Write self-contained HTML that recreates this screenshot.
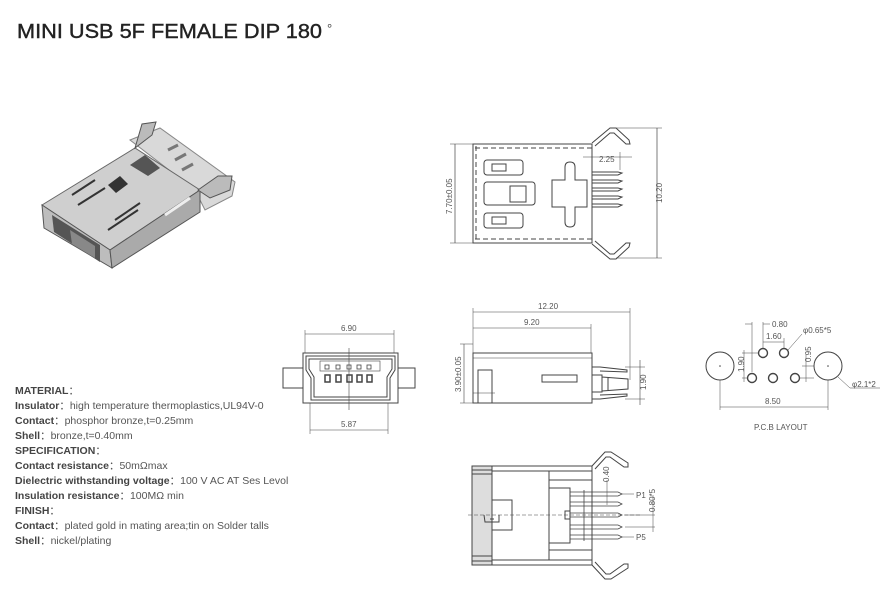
<!DOCTYPE html>
<html><head><meta charset="utf-8"><style>
html,body{margin:0;padding:0;background:#fff;width:889px;height:590px;overflow:hidden}
svg{display:block}
.d{font-family:"Liberation Sans",sans-serif;font-size:8px;fill:#555}
.t{font-family:"Liberation Sans","Noto Sans CJK SC",sans-serif;font-size:10.5px;fill:#555}
.b{font-weight:bold;fill:#444}
</style></head><body>
<svg width="889" height="590" viewBox="0 0 889 590" xmlns="http://www.w3.org/2000/svg">
<text x="17" y="38" font-family="Liberation Sans,sans-serif" font-size="20.5" fill="#222" textLength="305" lengthAdjust="spacingAndGlyphs" stroke="#222" stroke-width="0.4">MINI USB 5F FEMALE DIP 180</text>
<text x="327" y="33" font-family="Liberation Sans,sans-serif" font-size="13" fill="#444">°</text>

<!-- photo -->
<g>
<polygon points="130,140 160,128 235,182 232,196 205,210 195,190" fill="#d9d9d9" stroke="#888"/>
<polygon points="42,205 135,148 200,190 110,250" fill="#cfcfcf" stroke="#666"/>
<polygon points="42,205 110,250 112,268 44,228" fill="#bdbdbd" stroke="#555"/>
<polygon points="110,250 200,190 200,212 112,268" fill="#aaa" stroke="#555"/>
<polygon points="52,215 100,245 100,262 54,232" fill="#555"/>
<polygon points="70,230 95,246 95,258 72,244" fill="#888"/>
<polygon points="135,148 142,124 156,122 152,135" fill="#bbb" stroke="#555"/>
<polygon points="198,190 218,176 232,176 230,190 210,198" fill="#bbb" stroke="#555"/>
<line x1="168" y1="150" x2="178" y2="145" stroke="#777" stroke-width="3"/>
<line x1="175" y1="160" x2="186" y2="154" stroke="#777" stroke-width="3"/>
<line x1="182" y1="170" x2="193" y2="164" stroke="#777" stroke-width="3"/>
<polygon points="108,185 120,176 128,184 116,193" fill="#333"/>
<line x1="72" y1="195" x2="95" y2="180" stroke="#333" stroke-width="2"/>
<line x1="78" y1="205" x2="105" y2="188" stroke="#333" stroke-width="2"/>
<line x1="108" y1="230" x2="138" y2="210" stroke="#333" stroke-width="2"/>
<line x1="115" y1="220" x2="140" y2="203" stroke="#333" stroke-width="2"/>
<polygon points="130,165 145,155 160,168 148,176" fill="#555"/>
<line x1="165" y1="215" x2="190" y2="198" stroke="#eee" stroke-width="3"/>
</g>

<g fill="none" stroke="#444" stroke-width="1">
<!-- top view -->
<rect x="473" y="144" width="119" height="99"/>
<line x1="475" y1="148" x2="592" y2="148" stroke-dasharray="5,3"/>
<line x1="475" y1="239" x2="592" y2="239" stroke-dasharray="5,3"/>
<line x1="476" y1="146" x2="476" y2="241" stroke-dasharray="5,3"/>
<rect x="484" y="160" width="39" height="15" rx="3"/>
<rect x="492" y="164" width="14" height="7"/>
<rect x="484" y="182" width="51" height="23" rx="3"/>
<rect x="510" y="186" width="16" height="16"/>
<rect x="484" y="213" width="39" height="15" rx="3"/>
<rect x="492" y="217" width="14" height="7"/>
<path d="M565,167 Q565,162 570,162 Q575,162 575,167 L575,180 L587,180 L587,207 L575,207 L575,222 Q575,227 570,227 Q565,227 565,222 L565,207 L552,207 L552,180 L565,180 Z"/>
<path d="M592,172 L618,172 L622,173 L618,175 L592,175 M592,180 L618,180 L622,181 L618,183 L592,183 M592,188 L618,188 L622,189 L618,191 L592,191 M592,196 L618,196 L622,197 L618,199 L592,199 M592,204 L618,204 L622,205 L618,207 L592,207"/>
<path d="M592,143 L610,128 L616,128 L629,140 L630,144 L626,144 L614,133 L610,133 L595,146"/>
<path d="M592,244 L610,259 L616,259 L629,247 L630,243 L626,243 L614,254 L610,254 L595,241"/>
<line x1="455" y1="144" x2="455" y2="243" stroke-width="0.7"/>
<line x1="450" y1="144" x2="473" y2="144" stroke-width="0.5"/>
<line x1="450" y1="243" x2="473" y2="243" stroke-width="0.5"/>
<line x1="657" y1="128" x2="657" y2="258" stroke-width="0.7"/>
<line x1="616" y1="128" x2="662" y2="128" stroke-width="0.5"/>
<line x1="616" y1="258" x2="662" y2="258" stroke-width="0.5"/>
<line x1="583" y1="157" x2="632" y2="157" stroke-width="0.5"/>
<line x1="620" y1="152" x2="620" y2="170" stroke-width="0.5"/>

<!-- front view -->
<path d="M303,353 L398,353 L398,403 L303,403 Z"/>
<path d="M306,356 L395,356 L395,370 L390,378 L390,400 L311,400 L311,378 L306,370 Z"/>
<path d="M309,359 L392,359 L392,369 L387,377 L387,397 L314,397 L314,377 L309,369 Z"/>
<rect x="283" y="368" width="20" height="20"/>
<rect x="398" y="368" width="17" height="20"/>
<rect x="320" y="361" width="60" height="10" stroke-width="0.6"/>
<g stroke-width="0.8">
<rect x="325" y="365" width="4" height="4"/><rect x="336" y="365" width="4" height="4"/><rect x="347" y="365" width="4" height="4"/><rect x="357" y="365" width="4" height="4"/><rect x="367" y="365" width="4" height="4"/>
<rect x="325" y="375" width="5" height="7" stroke-width="1.5"/><rect x="336" y="375" width="5" height="7" stroke-width="1.5"/><rect x="347" y="375" width="5" height="7" stroke-width="1.5"/><rect x="357" y="375" width="5" height="7" stroke-width="1.5"/><rect x="367" y="375" width="5" height="7" stroke-width="1.5"/>
</g>
<line x1="349" y1="348" x2="349" y2="410" stroke-width="0.6"/>
<line x1="305" y1="334" x2="394" y2="334" stroke-width="0.6"/>
<line x1="305" y1="330" x2="305" y2="353" stroke-width="0.5"/>
<line x1="394" y1="330" x2="394" y2="353" stroke-width="0.5"/>
<line x1="310" y1="430" x2="388" y2="430" stroke-width="0.6"/>
<line x1="310" y1="403" x2="310" y2="434" stroke-width="0.5"/>
<line x1="388" y1="403" x2="388" y2="434" stroke-width="0.5"/>

<!-- side view -->
<rect x="473" y="353" width="119" height="50"/>
<line x1="473" y1="358" x2="592" y2="358" stroke-width="0.6"/>
<rect x="478" y="370" width="14" height="33"/>
<line x1="473" y1="393" x2="495" y2="393" stroke-width="0.6"/>
<rect x="542" y="375" width="35" height="7"/>
<path d="M592,367 L600,367 L627,370 L627,372 L600,371 M592,399 L600,399 L627,396 L627,394 L600,395 M592,375 L602,375 L602,392 L592,392 M602,377 L628,379 L628,389 L602,391 M608,378 L608,390"/>
<line x1="473" y1="312" x2="630" y2="312" stroke-width="0.6"/>
<line x1="473" y1="328" x2="591" y2="328" stroke-width="0.6"/>
<line x1="473" y1="308" x2="473" y2="353" stroke-width="0.5"/>
<line x1="630" y1="308" x2="630" y2="380" stroke-width="0.5"/>
<line x1="591" y1="324" x2="591" y2="353" stroke-width="0.5"/>
<line x1="464" y1="344" x2="464" y2="403" stroke-width="0.6"/>
<line x1="460" y1="344" x2="473" y2="344" stroke-width="0.5"/>
<line x1="460" y1="403" x2="473" y2="403" stroke-width="0.5"/>
<line x1="640" y1="360" x2="640" y2="405" stroke-width="0.6"/>
<line x1="625" y1="367" x2="645" y2="367" stroke-width="0.5"/>
<line x1="625" y1="399" x2="645" y2="399" stroke-width="0.5"/>

<!-- bottom view -->
<rect x="472" y="466" width="120" height="99"/>
<line x1="472" y1="471" x2="592" y2="471"/>
<line x1="472" y1="560" x2="592" y2="560"/>
<rect x="472" y="466" width="20" height="99" fill="#ddd"/>
<line x1="472" y1="470" x2="492" y2="470"/><line x1="472" y1="474" x2="492" y2="474"/>
<line x1="472" y1="556" x2="492" y2="556"/><line x1="472" y1="561" x2="492" y2="561"/>
<line x1="549" y1="471" x2="549" y2="560"/>
<path d="M492,500 L512,500 L512,530 L492,530"/>
<path d="M484,515 L485,522 L499,522 L499,515 M490,519 L494,519"/>
<rect x="549" y="488" width="21" height="55"/>
<line x1="549" y1="550" x2="592" y2="550"/>
<line x1="549" y1="480" x2="592" y2="480"/>
<g stroke-width="0.8">
<path d="M570,492 L618,492 L622,494 L618,496 L570,496 M570,502 L618,502 L622,504 L618,506 L570,506 M570,513 L618,513 L622,515 L618,517 L570,517 M570,525 L618,525 L622,527 L618,529 L570,529 M570,535 L618,535 L622,537 L618,539 L570,539"/>
<line x1="584" y1="490" x2="584" y2="541"/>
</g>
<rect x="565" y="511" width="5" height="8"/>
<path d="M592,466 L605,452 L611,452 L628,463 L628,467 L624,467 L610,457 L606,457 L595,469"/>
<path d="M592,565 L605,579 L611,579 L628,568 L628,564 L624,564 L610,574 L606,574 L595,562"/>
<line x1="468" y1="515" x2="640" y2="515" stroke-dasharray="4,2" stroke-width="0.5"/>
<line x1="607" y1="480" x2="607" y2="505" stroke-width="0.5"/>
<line x1="622" y1="494" x2="634" y2="494" stroke-width="0.5"/>
<line x1="622" y1="537" x2="634" y2="537" stroke-width="0.5"/>
<line x1="625" y1="515" x2="655" y2="515" stroke-width="0.5"/>
<line x1="625" y1="527" x2="655" y2="527" stroke-width="0.5"/>
<line x1="653" y1="495" x2="653" y2="532" stroke-width="0.5"/>

<!-- PCB -->
<circle cx="720" cy="366" r="14"/>
<circle cx="828" cy="366" r="14"/>
<circle cx="763" cy="353" r="4.5" stroke-width="1.4"/>
<circle cx="784" cy="353" r="4.5" stroke-width="1.4"/>
<circle cx="752" cy="378" r="4.5" stroke-width="1.4"/>
<circle cx="773" cy="378" r="4.5" stroke-width="1.4"/>
<circle cx="795" cy="378" r="4.5" stroke-width="1.4"/>
<line x1="720" y1="380" x2="720" y2="410" stroke-width="0.5"/>
<line x1="828" y1="380" x2="828" y2="410" stroke-width="0.5"/>
<line x1="720" y1="407" x2="828" y2="407" stroke-width="0.6"/>
<line x1="752" y1="322" x2="752" y2="372" stroke-width="0.5"/>
<line x1="763" y1="322" x2="763" y2="348" stroke-width="0.5"/>
<line x1="745" y1="324" x2="752" y2="324" stroke-width="0.5"/>
<line x1="763" y1="324" x2="770" y2="324" stroke-width="0.5"/>
<line x1="763" y1="342" x2="784" y2="342" stroke-width="0.5"/>
<line x1="784" y1="338" x2="784" y2="348" stroke-width="0.5"/>
<line x1="788" y1="350" x2="802" y2="334" stroke-width="0.5"/>
<line x1="742" y1="353" x2="759" y2="353" stroke-width="0.5"/>
<line x1="742" y1="378" x2="748" y2="378" stroke-width="0.5"/>
<line x1="744" y1="350" x2="744" y2="382" stroke-width="0.5"/>
<line x1="802" y1="366" x2="814" y2="366" stroke-width="0.5"/>
<line x1="800" y1="378" x2="814" y2="378" stroke-width="0.5"/>
<line x1="806" y1="355" x2="806" y2="382" stroke-width="0.5"/>
<line x1="838" y1="377" x2="850" y2="388" stroke-width="0.5"/>
<line x1="850" y1="388" x2="880" y2="388" stroke-width="0.5"/>
</g>
<circle cx="720" cy="366" r="0.8" fill="#444"/><circle cx="828" cy="366" r="0.8" fill="#444"/>

<g class="d">
<text transform="translate(452,214) rotate(-90)">7.70±0.05</text>
<text transform="translate(662,203) rotate(-90)">10.20</text>
<text x="599" y="162">2.25</text>
<text x="341" y="331">6.90</text>
<text x="341" y="427">5.87</text>
<text x="538" y="309">12.20</text>
<text x="524" y="325">9.20</text>
<text transform="translate(461,392) rotate(-90)">3.90±0.05</text>
<text transform="translate(646,390) rotate(-90)">1.90</text>
<text transform="translate(609,482) rotate(-90)">0.40</text>
<text transform="translate(655,512) rotate(-90)">0.80*5</text>
<text x="636" y="498">P1</text>
<text x="636" y="540">P5</text>
<text x="772" y="327">0.80</text>
<text x="766" y="339">1.60</text>
<text x="803" y="333">φ0.65*5</text>
<text transform="translate(811,362) rotate(-90)">0.95</text>
<text transform="translate(744,372) rotate(-90)">1.90</text>
<text x="852" y="387">φ2.1*2</text>
<text x="765" y="404">8.50</text>
<text x="754" y="430">P.C.B LAYOUT</text>
</g>

<g class="t">
<text x="15" y="394"><tspan class="b">MATERIAL</tspan>：</text>
<text x="15" y="409"><tspan class="b">Insulator</tspan>：high temperature thermoplastics,UL94V-0</text>
<text x="15" y="424"><tspan class="b">Contact</tspan>：phosphor bronze,t=0.25mm</text>
<text x="15" y="439"><tspan class="b">Shell</tspan>：bronze,t=0.40mm</text>
<text x="15" y="454"><tspan class="b">SPECIFICATION</tspan>：</text>
<text x="15" y="469"><tspan class="b">Contact resistance</tspan>：50mΩmax</text>
<text x="15" y="484"><tspan class="b">Dielectric withstanding voltage</tspan>：100 V AC AT Ses Levol</text>
<text x="15" y="499"><tspan class="b">Insulation resistance</tspan>：100MΩ min</text>
<text x="15" y="514"><tspan class="b">FINISH</tspan>：</text>
<text x="15" y="529"><tspan class="b">Contact</tspan>：plated gold in mating area;tin on Solder talls</text>
<text x="15" y="544"><tspan class="b">Shell</tspan>：nickel/plating</text>
</g>
</svg>
</body></html>
